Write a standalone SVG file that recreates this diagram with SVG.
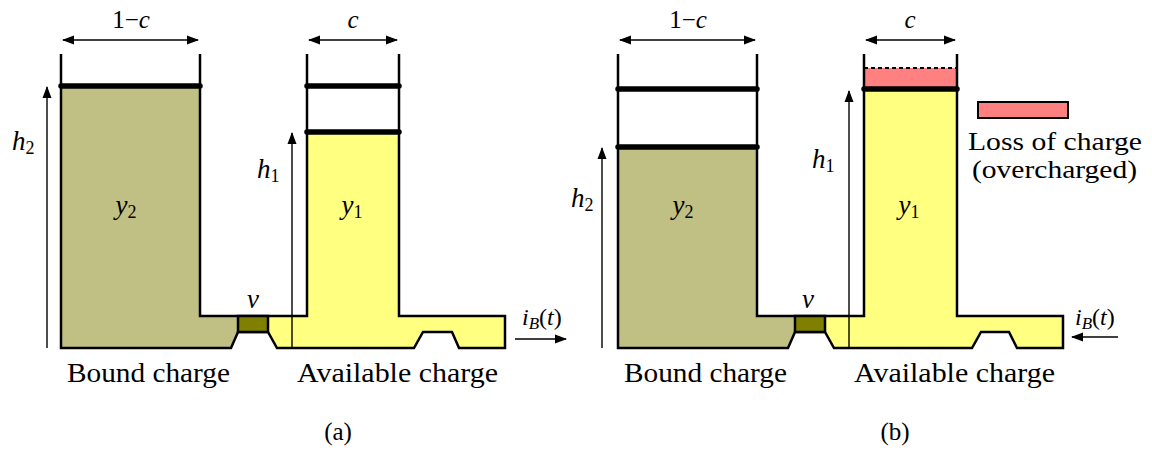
<svg xmlns="http://www.w3.org/2000/svg" width="1152" height="452" viewBox="0 0 1152 452">
<defs>
<style>
.wall{fill:none;stroke:#000;stroke-width:2.5;stroke-linejoin:miter}
.lvl{stroke:#000;stroke-width:5.5;stroke-linecap:round}
.bound{fill:#C0C085;stroke:none}
.avail{fill:#FFFF80;stroke:none}
.valve{fill:#808000;stroke:#000;stroke-width:2.5}
.loss{fill:#FF8080;stroke:none}
.arr{fill:none;stroke:#000;stroke-width:1.4}
.t{font-family:"Liberation Serif","Times New Roman",serif;fill:#000}
.it{font-style:italic}
</style>
<marker id="ah" markerWidth="12" markerHeight="10" refX="11" refY="5" orient="auto-start-reverse" markerUnits="userSpaceOnUse">
<path d="M0,0.5 L12,5 L0,9.5 Z" fill="#000"/>
</marker>
</defs>
<rect width="1152" height="452" fill="#fff"/>

<!-- Panel (a) -->
<g id="panel-a">
<g id="a-bound-tank">
<polygon class="bound" points="61,86 200,86 200,316 238,316 238,332 231,348 61,348"/>
<line class="lvl" x1="61" y1="86" x2="200" y2="86"/>
<text class="t it" x="126" y="214" font-size="27" text-anchor="middle">y<tspan font-style="normal" font-size="18" dy="4">2</tspan></text>
<text class="t" x="67" y="382" font-size="27" textLength="163" lengthAdjust="spacingAndGlyphs">Bound charge</text>
</g>
<g id="a-available-tank">
<polygon class="avail" points="307,132 399,132 399,316 505,316 505,348 459,348 452,332 423,332 414,348 277,348 268,332 268,316 307,316"/>
<line class="lvl" x1="307" y1="86" x2="399" y2="86"/>
<line class="lvl" x1="307" y1="132" x2="399" y2="132"/>
<text class="t it" x="352" y="214" font-size="27" text-anchor="middle">y<tspan font-style="normal" font-size="18" dy="4">1</tspan></text>
<text class="t" x="297" y="382" font-size="27" textLength="201" lengthAdjust="spacingAndGlyphs">Available charge</text>
</g>
<g id="a-outline">
<path class="wall" d="M61,54 V348 H231 L238,332 H268 L277,348 H414 L423,332 H452 L459,348 H505 V316 H399 V54"/>
<path class="wall" d="M200,54 V316 H307 V54"/>
</g>
<g id="a-valve">
<rect class="valve" x="238" y="316" width="30" height="16"/>
<text class="t it" x="253" y="308" font-size="27" text-anchor="middle">v</text>
</g>
<g id="a-labels">
<text class="t" x="131" y="28" font-size="25" text-anchor="middle">1−<tspan font-style="italic">c</tspan></text>
<text class="t it" x="353" y="28" font-size="25" text-anchor="middle">c</text>
<text class="t it" x="12" y="150" font-size="27">h<tspan font-style="normal" font-size="18" dy="4">2</tspan></text>
<text class="t it" x="257" y="178" font-size="27">h<tspan font-style="normal" font-size="18" dy="4">1</tspan></text>
<text class="t" x="522" y="325" font-size="24"><tspan font-style="italic">i</tspan><tspan font-style="italic" font-size="17" dy="4">B</tspan><tspan dy="-4">(</tspan><tspan font-style="italic">t</tspan>)</text>
<text class="t" x="338" y="440" font-size="25" text-anchor="middle">(a)</text>
</g>
</g>

<!-- Panel (b) -->
<g id="panel-b">
<g id="b-bound-tank">
<polygon class="bound" points="618,147 757,147 757,316 795,316 795,332 788,348 618,348"/>
<line class="lvl" x1="618" y1="89" x2="757" y2="89"/>
<line class="lvl" x1="618" y1="147" x2="757" y2="147"/>
<text class="t it" x="683" y="214" font-size="27" text-anchor="middle">y<tspan font-style="normal" font-size="18" dy="4">2</tspan></text>
<text class="t" x="624" y="382" font-size="27" textLength="163" lengthAdjust="spacingAndGlyphs">Bound charge</text>
</g>
<g id="b-available-tank">
<rect class="loss" x="864" y="68" width="93" height="21"/>
<line x1="864" y1="68" x2="957" y2="68" stroke="#000" stroke-width="2" stroke-dasharray="4,3"/>
<polygon class="avail" points="864,89 957,89 957,316 1063,316 1063,348 1017,348 1009,332 981,332 972,348 834,348 825,332 825,316 864,316"/>
<line class="lvl" x1="864" y1="89" x2="957" y2="89"/>
<text class="t it" x="909" y="214" font-size="27" text-anchor="middle">y<tspan font-style="normal" font-size="18" dy="4">1</tspan></text>
<text class="t" x="854" y="382" font-size="27" textLength="201" lengthAdjust="spacingAndGlyphs">Available charge</text>
</g>
<g id="b-outline">
<path class="wall" d="M618,54 V348 H788 L795,332 H825 L834,348 H972 L981,332 H1009 L1017,348 H1063 V316 H957 V54"/>
<path class="wall" d="M757,54 V316 H864 V54"/>
</g>
<g id="b-valve">
<rect class="valve" x="795" y="316" width="30" height="16"/>
<text class="t it" x="808" y="308" font-size="27" text-anchor="middle">v</text>
</g>
<g id="b-legend">
<rect x="978" y="102" width="90" height="16" fill="#FF8080" stroke="#000" stroke-width="2"/>
<text class="t" x="968" y="150" font-size="25" textLength="174" lengthAdjust="spacingAndGlyphs">Loss of charge</text>
<text class="t" x="972" y="178" font-size="25" textLength="165" lengthAdjust="spacingAndGlyphs">(overcharged)</text>
</g>
<g id="b-labels">
<text class="t" x="688" y="28" font-size="25" text-anchor="middle">1−<tspan font-style="italic">c</tspan></text>
<text class="t it" x="910" y="28" font-size="25" text-anchor="middle">c</text>
<text class="t it" x="571" y="207" font-size="27">h<tspan font-style="normal" font-size="18" dy="4">2</tspan></text>
<text class="t it" x="812" y="168" font-size="27">h<tspan font-style="normal" font-size="18" dy="4">1</tspan></text>
<text class="t" x="1075" y="325" font-size="24"><tspan font-style="italic">i</tspan><tspan font-style="italic" font-size="17" dy="4">B</tspan><tspan dy="-4">(</tspan><tspan font-style="italic">t</tspan>)</text>
<text class="t" x="895" y="440" font-size="25" text-anchor="middle">(b)</text>
</g>
</g>

<!-- Connectors / arrows -->
<g id="connectors">
<line class="arr" x1="63" y1="40" x2="198" y2="40" marker-start="url(#ah)" marker-end="url(#ah)"/>
<line class="arr" x1="309" y1="40" x2="397" y2="40" marker-start="url(#ah)" marker-end="url(#ah)"/>
<line class="arr" x1="47" y1="348" x2="47" y2="87" marker-end="url(#ah)"/>
<line class="arr" x1="292" y1="348" x2="292" y2="133" marker-end="url(#ah)"/>
<line class="arr" x1="515" y1="339" x2="566" y2="339" marker-end="url(#ah)"/>
<line class="arr" x1="620" y1="40" x2="755" y2="40" marker-start="url(#ah)" marker-end="url(#ah)"/>
<line class="arr" x1="866" y1="40" x2="955" y2="40" marker-start="url(#ah)" marker-end="url(#ah)"/>
<line class="arr" x1="602" y1="348" x2="602" y2="148" marker-end="url(#ah)"/>
<line class="arr" x1="849" y1="348" x2="849" y2="91" marker-end="url(#ah)"/>
<line class="arr" x1="1118" y1="337" x2="1072" y2="337" marker-end="url(#ah)"/>
</g>
</svg>
